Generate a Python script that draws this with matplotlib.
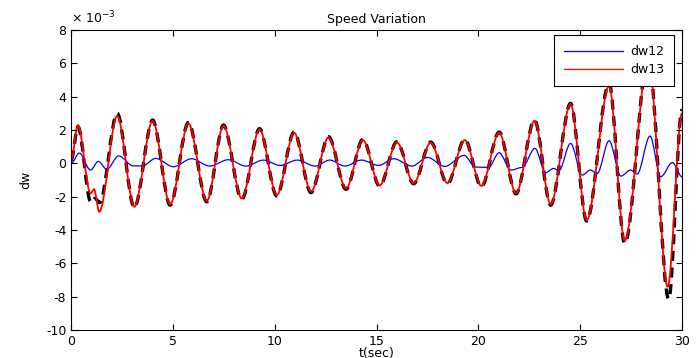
import matplotlib
matplotlib.use('Agg')
import matplotlib.pyplot as plt
from matplotlib.path import Path
from matplotlib.patches import PathPatch
from matplotlib.lines import Line2D
from matplotlib.ticker import FuncFormatter

plt.rcParams['font.family'] = ['DejaVu Sans']
plt.rcParams['font.size'] = 9
plt.rcParams['axes.unicode_minus'] = False

# extrema: time (s), speed deviation (x 1e-3)
t13 = [0.00, 0.33, 0.95, 1.12, 1.38, 2.26, 3.10, 4.00, 4.86, 5.76, 6.66, 7.48,
       8.38, 9.25, 10.10, 10.95, 11.78, 12.64, 13.50, 14.33, 15.15, 16.00,
       16.82, 17.66, 18.48, 19.33, 20.15, 21.02, 21.85, 22.76, 23.55, 24.53,
       25.32, 26.42, 27.19, 28.35, 29.30, 30.00]
dw13 = [0.2, 2.3, -1.8, -1.55, -2.9, 2.85, -2.6, 2.55, -2.45, 2.4, -2.25, 2.25,
        -2.1, 2.04, -1.9, 1.84, -1.7, 1.56, -1.5, 1.4, -1.32, 1.26,
        -1.18, 1.24, -1.18, 1.4, -1.35, 1.84, -1.78, 2.56, -2.44, 3.56,
        -3.4, 4.64, -4.64, 6.3, -7.4, 3.0]

t_ref = [0.00, 0.33, 0.97, 1.17, 1.40, 2.26, 3.10, 4.00, 4.86, 5.76, 6.66, 7.48,
         8.38, 9.25, 10.10, 10.95, 11.78, 12.64, 13.50, 14.33, 15.15, 16.00,
         16.82, 17.66, 18.48, 19.33, 20.15, 21.02, 21.85, 22.76, 23.55, 24.53,
         25.32, 26.42, 27.19, 28.35, 29.35, 30.00]
dw_ref = [0.2, 2.2, -2.35, -2.1, -2.35, 3.0, -2.65, 2.6, -2.5, 2.45, -2.3, 2.3,
          -2.15, 2.08, -1.95, 1.88, -1.75, 1.6, -1.55, 1.44, -1.36, 1.3,
          -1.22, 1.28, -1.22, 1.44, -1.4, 1.88, -1.82, 2.6, -2.5, 3.6,
          -3.45, 4.8, -4.8, 6.4, -8.15, 3.2]

t12 = [0.00, 0.40, 0.95, 1.33, 1.75, 2.33, 3.05, 3.50, 4.15, 5.02, 5.92, 6.80,
       7.72, 8.58, 9.44, 10.27, 11.10, 11.99, 12.70, 13.45, 14.25, 15.10,
       15.84, 16.74, 17.50, 18.35, 19.30, 19.86, 20.50, 21.02, 21.60, 22.15,
       22.78, 23.30, 23.70, 23.95, 24.53, 25.10, 25.50, 25.84, 26.42, 27.00,
       27.48, 27.80, 28.43, 28.96, 29.53, 30.00]
dw12 = [0.0, 0.62, -0.4, 0.12, -0.35, 0.45, -0.15, -0.15, 0.3, -0.2, 0.28, -0.16,
        0.22, -0.16, 0.2, -0.12, 0.2, -0.16, 0.2, -0.16, 0.2, -0.12,
        0.28, -0.16, 0.36, -0.18, 0.48, -0.22, -0.24, 0.64, -0.4, -0.24,
        0.9, -0.56, -0.3, -0.45, 1.2, -0.7, -0.4, -0.6, 1.36, -0.76,
        -0.4, -0.64, 1.64, -0.8, 0.05, -0.8]

scale = 1e-3


def smooth_path(t, y):
    # cubic segments with flat tangents at every read extremum
    y = [v * scale for v in y]
    verts = [(t[0], y[0])]
    codes = [Path.MOVETO]
    for i in range(len(t) - 1):
        d = (t[i + 1] - t[i]) / 3
        verts += [(t[i] + d, y[i]), (t[i + 1] - d, y[i + 1]), (t[i + 1], y[i + 1])]
        codes += [Path.CURVE4] * 3
    return Path(verts, codes)


fig = plt.figure(figsize=(6.98, 3.58), dpi=100)
ax = fig.add_axes([0.102, 0.078, 0.875, 0.838])

ax.add_patch(PathPatch(smooth_path(t_ref, dw_ref), fill=False, ec='black',
                       lw=2.4, ls=(0, (3, 2))))
ax.add_patch(PathPatch(smooth_path(t12, dw12), fill=False, ec='blue', lw=0.9))
ax.add_patch(PathPatch(smooth_path(t13, dw13), fill=False, ec='red', lw=1.3))

ax.set_xlim(0, 30)
ax.set_ylim(-10e-3, 8e-3)
ax.set_xticks(range(0, 31, 5))
ax.set_yticks([v * scale for v in range(-10, 9, 2)])
ax.yaxis.set_major_formatter(FuncFormatter(lambda v, p: '%d' % round(v / scale)))
ax.text(0.0, 1.012, '× 10$^{-3}$', transform=ax.transAxes, ha='left', va='bottom',
        fontsize=9)
ax.tick_params(direction='in', top=True, right=True, length=4, width=0.8,
               labelsize=9)
for s in ax.spines.values():
    s.set_linewidth(0.8)

ax.set_title('Speed Variation', fontsize=9, pad=5)
ax.set_xlabel('t(sec)', labelpad=-1)
ax.set_ylabel('dw', labelpad=10)

handles = [Line2D([], [], color='blue', lw=0.9),
           Line2D([], [], color='red', lw=0.9)]
leg = ax.legend(handles, ['dw12', 'dw13'], loc='upper right',
                bbox_to_anchor=(0.9874, 0.9833), borderaxespad=0,
                fancybox=False, framealpha=1, edgecolor='black',
                handlelength=4.7, handletextpad=0.6, borderpad=0.8,
                labelspacing=0.4, fontsize=9)
leg.get_frame().set_linewidth(0.8)

fig.savefig('out.png', dpi=100)
